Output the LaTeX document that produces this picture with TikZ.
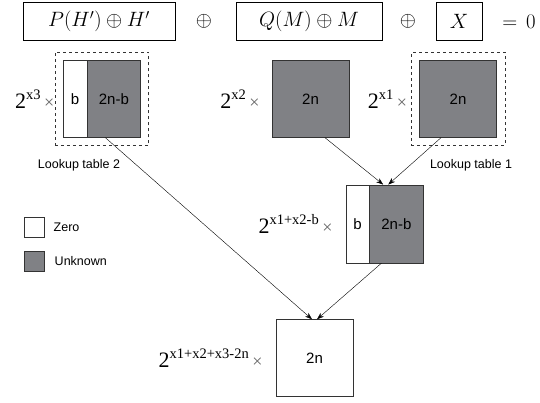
\documentclass[tikz,border=0pt]{standalone}
\usepackage{fontspec}
\setmainfont{Liberation Sans}
\newfontfamily\timesfont{Liberation Serif}
\usetikzlibrary{positioning,fit,arrows.meta}

\definecolor{unkgray}{RGB}{128,129,133}
\newcommand{\twopow}[1]{{\timesfont\fontsize{22}{22}\selectfont 2\raisebox{8.5pt}{\fontsize{14.5}{14.5}\selectfont #1}\,{\color{black!60}\fontsize{18}{18}\selectfont ×}}}

\tikzset{
  eqbox/.style={draw, thin, minimum height=38pt, inner sep=0pt, font=\fontsize{20}{24}\selectfont},
  eqsign/.style={inner sep=0pt, font=\fontsize{20}{24}\selectfont},
  zerobox/.style={draw=black!80, fill=white, minimum height=77pt, inner sep=0pt, font=\fontsize{15}{15}\selectfont},
  unkbox/.style={zerobox, fill=unkgray},
  lut/.style={draw=black!80, dashed, inner sep=8pt},
  power/.style={inner sep=0pt},
  note/.style={font=\fontsize{12.5}{15}\selectfont},
  arr/.style={-{Stealth[length=7pt,width=5pt]}, black}
}

\begin{document}
\begin{tikzpicture}[x=1pt, y=-1pt]
    \useasboundingbox (0,0) rectangle (540,403);

    % Equation on top
    \node[eqbox, minimum width=152pt] (ph) at (99,21.5) {$P(H')\oplus H'$};
    \node[eqsign] (o1) at (204,21.5) {$\oplus$};
    \node[eqbox, minimum width=146pt] (qm) at (309,21.5) {$Q(M)\oplus M$};
    \node[eqsign] (o2) at (408,21.5) {$\oplus$};
    \node[eqbox, minimum width=46pt] (xx) at (459,21.5) {$X$};
    \node[eqsign] (eq) at (519,21.5) {$=$\hspace{9pt}$0$};

    % Tables
    \node[zerobox, minimum width=24pt] (b3) at (75,99) {b};
    \node[unkbox, minimum width=53pt, right=0pt of b3] (g3) {2n-b};
    \node[lut, fit=(b3)(g3)] (lut2) {};
    \node[power, left=0pt of lut2] {\twopow{x3}};

    \node[unkbox, minimum width=77pt] (x2) at (310.5,99) {2n};
    \node[power, left=12pt of x2] {\twopow{x2}};

    \node[unkbox, minimum width=77pt] (x1) at (458,99) {2n};
    \node[lut, fit=(x1)] (lut1) {};
    \node[power, left=12pt of x1] {\twopow{x1}};

    \node[note] (n2) at (79,165) {Lookup table 2};
    \node[note] (n1) at (471,165) {Lookup table 1};

    % Merged table
    \node[zerobox, minimum width=23pt, minimum height=78pt] (bm) at (357.5,224) {b};
    \node[unkbox, minimum width=54pt, minimum height=78pt, right=0pt of bm] (gm) {2n-b};
    \node[inner sep=0pt, fit=(bm)(gm)] (mid) {};
    \node[power, left=13pt of bm] {\twopow{x1+x2-b}};

    % Result
    \node[zerobox, minimum width=77pt] (res) at (314.5,358) {2n};
    \node[power, left=13pt of res] {\twopow{x1+x2+x3-2n}};

    % Legend
    \node[zerobox, minimum width=20pt, minimum height=20pt] (kz) at (34,227) {};
    \node[note, right=6pt of kz] {Zero};
    \node[unkbox, minimum width=20pt, minimum height=20pt] (ku) at (34,261) {};
    \node[note, right=7pt of ku] {Unknown};

    % Arrows
    \draw[arr] ([xshift=14.5pt]x2.south) -- ([xshift=-1.5pt]mid.north);
    \draw[arr] ([xshift=-17pt]x1.south) -- ([xshift=3.5pt]mid.north);
    \draw[arr] ([xshift=-8.5pt]g3.south) -- ([xshift=-2.5pt]res.north);
    \draw[arr] ([xshift=-15pt]gm.south) -- ([xshift=2.5pt]res.north);
\end{tikzpicture}
\end{document}
